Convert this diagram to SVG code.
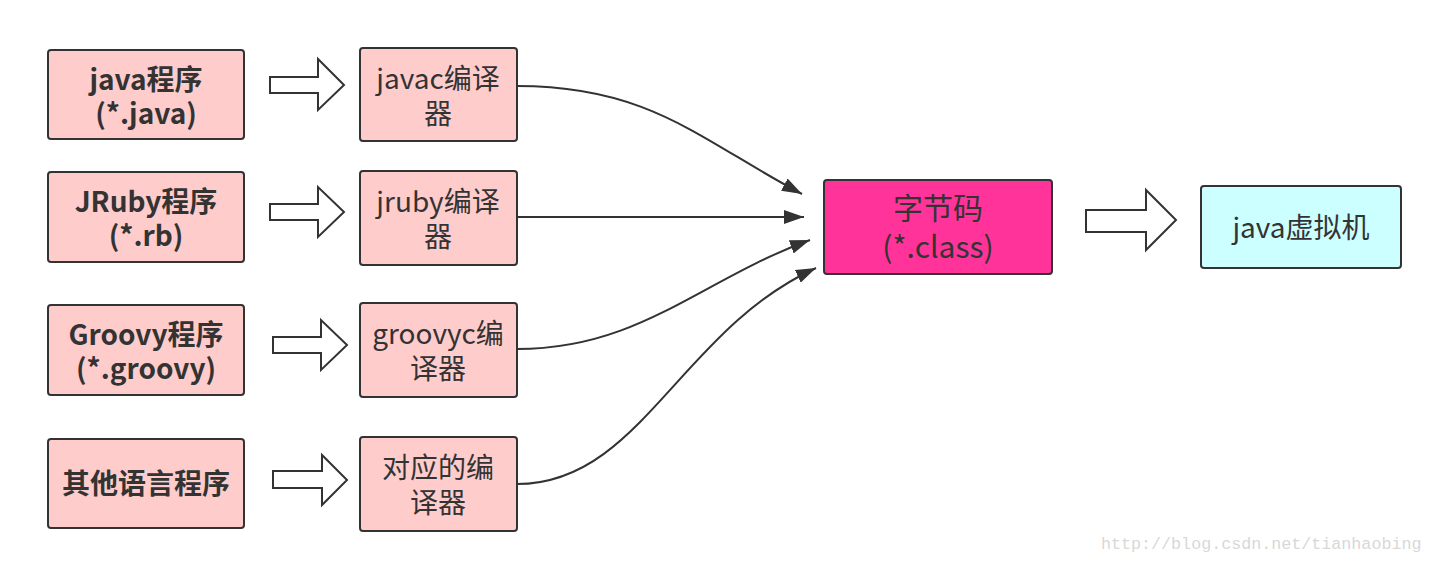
<svg xmlns="http://www.w3.org/2000/svg" width="1433" height="563" viewBox="0 0 1433 563">
<defs>
<style>
.box{fill:#FFCCCC;stroke:#333;stroke-width:2}
.t{font-family:"Noto Sans CJK SC","Noto Sans",sans-serif;font-size:28px;fill:#333;text-anchor:middle}
.b{font-weight:bold}
.blk{fill:#fff;stroke:#333;stroke-width:2;stroke-linejoin:miter}
.con{fill:none;stroke:#333;stroke-width:2}
</style>
<marker id="ah2" viewBox="0 0 20 14" refX="20" refY="7" markerWidth="20" markerHeight="14" orient="auto" markerUnits="userSpaceOnUse">
<path d="M0,0 L20,7 L0,14 z" fill="#333"/>
</marker>
</defs>
<rect width="1433" height="563" fill="#fff"/>
<g id="connectors">
<path class="con" d="M517 86 C650 86 700 140 802 194" marker-end="url(#ah2)"/>
<path class="con" d="M517 217 L804 217" marker-end="url(#ah2)"/>
<path class="con" d="M517 349 C640 349 700 280 810 240" marker-end="url(#ah2)"/>
<path class="con" d="M517 484 C640 484 680 330 816 268" marker-end="url(#ah2)"/>
<path class="blk" d="M270 77 H318 V59 L344 85 L318 110 V93 H270 Z"/>
<path class="blk" d="M270 204 H318 V187 L344 212 L318 237 V220 H270 Z"/>
<path class="blk" d="M273 337 H321 V320 L347 345 L321 370 V353 H273 Z"/>
<path class="blk" d="M273 471 H322 V455 L347 480 L322 505 V488 H273 Z"/>
<path class="blk" d="M1086 210 H1146 V190 L1176 220 L1146 250 V232 H1086 Z"/>
</g>
<g id="n_java">
<rect class="box" x="48" y="50" width="196" height="89" rx="3"/>
<text class="t b" x="146" y="90">java程序<tspan x="146" dy="34">(*.java)</tspan></text>
</g>
<g id="n_jruby">
<rect class="box" x="48" y="172" width="196" height="90" rx="3"/>
<text class="t b" x="146" y="212">JRuby程序<tspan x="146" dy="34">(*.rb)</tspan></text>
</g>
<g id="n_groovy">
<rect class="box" x="48" y="305" width="196" height="90" rx="3"/>
<text class="t b" x="146" y="345">Groovy程序<tspan x="146" dy="34">(*.groovy)</tspan></text>
</g>
<g id="n_other">
<rect class="box" x="48" y="439" width="196" height="89" rx="3"/>
<text class="t b" x="146" y="494">其他语言程序</text>
</g>
<g id="c_javac">
<rect class="box" x="360" y="48" width="157" height="93" rx="3"/>
<text class="t" x="438" y="89">javac编译<tspan x="438" dy="35">器</tspan></text>
</g>
<g id="c_jruby">
<rect class="box" x="360" y="171" width="157" height="94" rx="3"/>
<text class="t" x="438" y="212">jruby编译<tspan x="438" dy="35">器</tspan></text>
</g>
<g id="c_groovy">
<rect class="box" x="360" y="303" width="157" height="94" rx="3"/>
<text class="t" x="438" y="344">groovyc编<tspan x="438" dy="35">译器</tspan></text>
</g>
<g id="c_other">
<rect class="box" x="360" y="437" width="157" height="94" rx="3"/>
<text class="t" x="438" y="478">对应的编<tspan x="438" dy="35">译器</tspan></text>
</g>
<g id="bytecode">
<rect x="824" y="180" width="228" height="94" rx="3" fill="#FF3399" stroke="#333" stroke-width="2"/>
<text class="t" x="938" y="219" style="font-size:30px">字节码<tspan x="938" dy="39">(*.class)</tspan></text>
</g>
<g id="jvm">
<rect x="1201" y="186" width="200" height="82" rx="3" fill="#CCFFFF" stroke="#333" stroke-width="2"/>
<text class="t" x="1301" y="238">java虚拟机</text>
</g>
<text x="1101" y="549" font-family="Liberation Mono, monospace" font-size="16.7" fill="#d8d8d8">http://blog.csdn.net/tianhaobing</text>
</svg>
